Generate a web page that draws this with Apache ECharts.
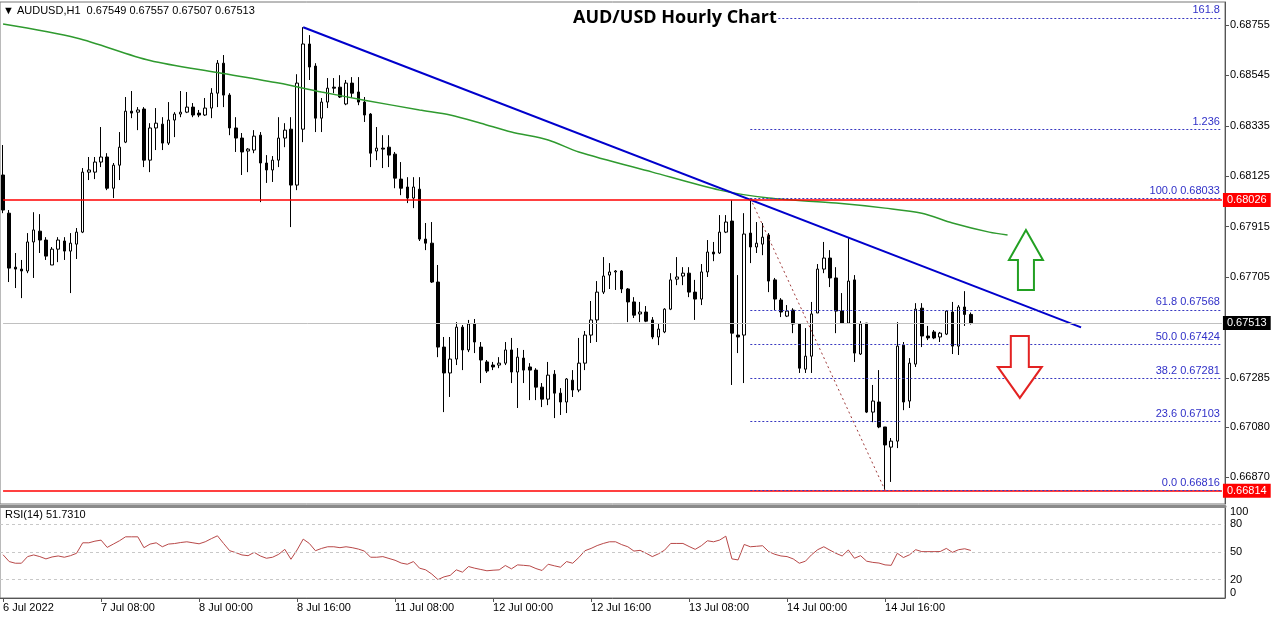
<!DOCTYPE html>
<html><head><meta charset="utf-8">
<script src="https://cdn.jsdelivr.net/npm/echarts@6/dist/echarts.min.js"></script>
<style>html,body{margin:0;padding:0;background:#fff}#c{width:1280px;height:619px}</style>
</head><body><div id="c"></div>
<script>
// ---- data ----
const openP=[0.68130,0.67971,0.67746,0.67738,0.67730,0.67851,0.67896,0.67859,0.67755,0.67821,
0.67855,0.67813,0.67842,0.67892,0.68142,0.68142,0.68184,0.68205,0.68075,0.68171,
0.68267,0.68396,0.68392,0.68405,0.68192,0.68326,0.68342,0.68263,0.68359,0.68384,
0.68392,0.68413,0.68388,0.68380,0.68409,0.68471,0.68596,0.68463,0.68326,0.68284,
0.68230,0.68234,0.68296,0.68180,0.68151,0.68192,0.68284,0.68321,0.68088,0.68321,
0.68676,0.68584,0.68367,0.68434,0.68496,0.68496,0.68426,0.68513,0.68476,0.68434,
0.68384,0.68230,0.68242,0.68246,0.68217,0.68113,0.68080,0.68034,0.68071,0.67863,
0.67846,0.67684,0.67413,0.67305,0.67363,0.67496,0.67401,0.67509,0.67413,0.67351,
0.67338,0.67338,0.67346,0.67401,0.67309,0.67367,0.67330,0.67317,0.67246,0.67196,
0.67300,0.67221,0.67184,0.67275,0.67234,0.67346,0.67463,0.67526,0.67642,0.67713,
0.67726,0.67730,0.67655,0.67601,0.67551,0.67559,0.67526,0.67455,0.67476,0.67571,
0.67696,0.67709,0.67721,0.67642,0.67613,0.67726,0.67809,0.67805,0.67892,0.67938,
0.67463,0.67463,0.67888,0.67830,0.67842,0.67880,0.67693,0.67609,0.67542,0.67567,
0.67509,0.67321,0.67375,0.67555,0.67738,0.67784,0.67701,0.67563,0.67513,0.67693,
0.67384,0.67513,0.67142,0.67184,0.67080,0.66996,0.67021,0.67421,0.67188,0.67342,
0.67575,0.67459,0.67476,0.67455,0.67467,0.67559,0.67417,0.67580,0.67549];
const highP=[0.68255,0.67984,0.67805,0.67776,0.67888,0.67975,0.67967,0.67871,0.67830,0.67871,
0.67871,0.67888,0.67909,0.68159,0.68205,0.68205,0.68330,0.68221,0.68180,0.68309,
0.68455,0.68480,0.68413,0.68413,0.68346,0.68409,0.68371,0.68434,0.68392,0.68480,
0.68476,0.68430,0.68401,0.68451,0.68492,0.68609,0.68630,0.68471,0.68371,0.68305,
0.68242,0.68317,0.68309,0.68213,0.68209,0.68371,0.68346,0.68371,0.68550,0.68746,
0.68713,0.68596,0.68451,0.68534,0.68534,0.68546,0.68526,0.68538,0.68538,0.68455,
0.68388,0.68330,0.68296,0.68296,0.68226,0.68184,0.68121,0.68121,0.68121,0.67930,
0.67934,0.67755,0.67455,0.67455,0.67517,0.67505,0.67526,0.67530,0.67434,0.67359,
0.67351,0.67371,0.67434,0.67451,0.67409,0.67401,0.67346,0.67325,0.67263,0.67351,
0.67317,0.67242,0.67284,0.67317,0.67451,0.67480,0.67605,0.67688,0.67788,0.67763,
0.67734,0.67734,0.67659,0.67621,0.67601,0.67584,0.67538,0.67513,0.67575,0.67721,
0.67788,0.67746,0.67746,0.67693,0.67759,0.67859,0.67851,0.67963,0.67963,0.68025,
0.67713,0.67971,0.68033,0.67934,0.67930,0.67888,0.67701,0.67617,0.67588,0.67575,
0.67513,0.67492,0.67601,0.67759,0.67851,0.67817,0.67746,0.67638,0.67867,0.67713,
0.67521,0.67513,0.67255,0.67317,0.67080,0.67034,0.67517,0.67434,0.67367,0.67596,
0.67596,0.67501,0.67484,0.67476,0.67567,0.67601,0.67588,0.67646,0.67557];
const lowP=[0.67971,0.67684,0.67659,0.67617,0.67721,0.67701,0.67805,0.67776,0.67755,0.67767,
0.67776,0.67638,0.67780,0.67888,0.68109,0.68113,0.68163,0.68067,0.68034,0.68109,
0.68263,0.68367,0.68317,0.68163,0.68142,0.68234,0.68234,0.68255,0.68288,0.68371,
0.68388,0.68371,0.68371,0.68376,0.68367,0.68413,0.68413,0.68296,0.68226,0.68130,
0.68142,0.68221,0.68017,0.68097,0.68101,0.68163,0.68246,0.67913,0.68067,0.68267,
0.68526,0.68309,0.68309,0.68409,0.68471,0.68451,0.68421,0.68451,0.68421,0.68351,
0.68163,0.68192,0.68159,0.68163,0.68075,0.68046,0.68013,0.67992,0.67855,0.67817,
0.67680,0.67371,0.67142,0.67205,0.67338,0.67317,0.67392,0.67388,0.67263,0.67305,
0.67317,0.67325,0.67338,0.67263,0.67159,0.67263,0.67192,0.67192,0.67163,0.67171,
0.67117,0.67130,0.67138,0.67205,0.67225,0.67317,0.67430,0.67434,0.67634,0.67655,
0.67651,0.67638,0.67517,0.67534,0.67517,0.67517,0.67446,0.67421,0.67471,0.67567,
0.67671,0.67671,0.67621,0.67526,0.67588,0.67705,0.67771,0.67801,0.67888,0.67255,
0.67388,0.67263,0.67763,0.67805,0.67796,0.67642,0.67567,0.67538,0.67538,0.67471,
0.67305,0.67305,0.67305,0.67555,0.67721,0.67663,0.67471,0.67513,0.67513,0.67351,
0.67380,0.67138,0.67100,0.67075,0.66816,0.66851,0.66992,0.67150,0.67159,0.67330,
0.67413,0.67442,0.67446,0.67434,0.67463,0.67384,0.67380,0.67501,0.67507];
const closeP=[0.67984,0.67742,0.67738,0.67730,0.67851,0.67901,0.67859,0.67792,0.67821,0.67859,
0.67813,0.67846,0.67892,0.68142,0.68151,0.68184,0.68205,0.68075,0.68171,0.68246,
0.68396,0.68388,0.68401,0.68192,0.68326,0.68346,0.68263,0.68359,0.68384,0.68392,
0.68413,0.68380,0.68380,0.68409,0.68471,0.68596,0.68463,0.68326,0.68284,0.68226,
0.68238,0.68292,0.68180,0.68151,0.68192,0.68284,0.68317,0.68088,0.68513,0.68676,
0.68580,0.68367,0.68434,0.68492,0.68492,0.68455,0.68513,0.68471,0.68434,0.68380,
0.68221,0.68242,0.68238,0.68213,0.68117,0.68075,0.68034,0.68080,0.67863,0.67846,
0.67684,0.67413,0.67305,0.67363,0.67496,0.67401,0.67509,0.67434,0.67359,0.67313,
0.67330,0.67346,0.67401,0.67309,0.67371,0.67317,0.67317,0.67246,0.67196,0.67296,
0.67221,0.67184,0.67280,0.67234,0.67346,0.67463,0.67526,0.67642,0.67709,0.67726,
0.67730,0.67655,0.67601,0.67546,0.67559,0.67521,0.67455,0.67488,0.67571,0.67693,
0.67705,0.67721,0.67642,0.67613,0.67726,0.67809,0.67801,0.67892,0.67934,0.67471,
0.67455,0.67884,0.67830,0.67846,0.67871,0.67688,0.67613,0.67559,0.67563,0.67509,
0.67325,0.67375,0.67551,0.67738,0.67784,0.67701,0.67563,0.67513,0.67688,0.67388,
0.67509,0.67142,0.67188,0.67080,0.67005,0.67021,0.67417,0.67184,0.67346,0.67571,
0.67459,0.67451,0.67451,0.67471,0.67563,0.67417,0.67580,0.67549,0.67513];
const rsiVals=[47,39.6,37.8,37.8,45,46.8,45,42.5,44.6,45.7,
44.3,46,48.6,60,60,61.8,62.9,55,58.6,62.2,
66.5,66.5,66.5,54.7,58.6,60,55.7,58.6,59.2,60.3,
61.1,60,58.9,61.1,64.5,67.6,59.3,51.4,49.3,46.8,
46,49.6,45.7,43.2,44.3,47.5,52.9,42.1,52.2,64,
59.3,51.4,53.9,55.7,55.7,54.7,55.7,54.7,53.2,51,
44.3,44.3,45,43,41,38,36.7,39.6,32.4,30.6,
26,20,23,24.6,30.6,28.1,34.2,32.4,31,29.6,
30.2,30.6,35.3,31.7,36,35.5,34.9,32,29.9,36.7,
35,33.5,39.6,37.8,44,51.4,53.9,57,59.3,61.1,
61.1,58,55.7,51,51.8,48.6,45,48,52,59.3,
59.3,59.3,56,52.9,56.8,62.2,61.1,63,67.2,42.5,
41.4,58.2,55.7,56.2,56.8,50.4,47.5,45.7,45,42.5,
37.8,40,47,52.5,55.7,52,48.5,45.7,52.2,43.2,
46,40,38.7,38,36,35.5,48.6,44,47,52.5,
50.4,50.4,50.4,50.5,53.9,49.6,52.5,53.5,51.73];
const maIdx=[0,12,24,35,45,52,59,68,73,78,83,89,94,106,117,125,136,144,150,155,161,164];
const maVals=[0.68759,0.68701,0.68607,0.68557,0.68513,0.68476,0.68442,0.68401,0.68380,0.68346,0.68309,
0.68276,0.68226,0.68142,0.68067,0.68034,0.68013,0.67992,0.67971,0.67930,0.67892,0.67880];
const trendIdx=[49,176], trendVals=[0.68746,0.67495];
const fibIdx=[122,144], fibVals=[0.68033,0.66816];
const fibText=['161.8','1.236','100.0 0.68033','61.8 0.67568','50.0 0.67424','38.2 0.67281','23.6 0.67103','0.0 0.66816'];
const fibLevel=[0.68785,0.68320,0.68033,0.67568,0.67424,0.67281,0.67103,0.66816];
const priceTicks=[0.66870,0.67080,0.67285,0.67495,0.67705,0.67915,0.68125,0.68335,0.68545,0.68755];
const rsiTicks=[0,20,50,80,100];
const rsiLevels=[20,50,80];
const timeLabels=['6 Jul 2022','7 Jul 08:00','8 Jul 00:00','8 Jul 16:00','11 Jul 08:00','12 Jul 00:00','12 Jul 16:00','13 Jul 08:00','14 Jul 00:00','14 Jul 16:00'];
const resistance=0.68026, support=0.66814, lastPrice=0.67513;
const header='\u25BC AUDUSD,H1  0.67549 0.67557 0.67507 0.67513';
const rsiHeader='RSI(14) 51.7310';
const titleText='AUD/USD Hourly Chart';
const NSLOTS=200, LABEL_STEP=16;

// ---- build ----
const cats=Array.from({length:NSLOTS},(_,i)=>String(i));
const candles=openP.map((o,i)=>[o,closeP[i],lowP[i],highP[i]]);
const FONT='Liberation Sans';
const chart=echarts.init(document.getElementById('c'),null,{renderer:'canvas'});
const showLab=(i)=> i%LABEL_STEP===0 && i/LABEL_STEP<timeLabels.length;

const boxLabel=(txt,bg)=>({show:true,position:'end',formatter:txt,color:'#fff',backgroundColor:bg,padding:[2,4,1,4],fontSize:11,fontFamily:FONT,distance:1});
const hLine=(v,color,w,bg)=>[
  {coord:[0,v],lineStyle:{color:color,width:w,type:'solid'},label:boxLabel(v.toFixed(5),bg)},
  {coord:[NSLOTS-1,v]}];
const fibLines=fibLevel.map((v,k)=>[
  {coord:[fibIdx[0],v],lineStyle:{color:'#3838c0',width:1,type:[2,2]},
   label:{show:true,position:'insideEndTop',formatter:fibText[k],color:'#3030c8',fontSize:11,fontFamily:FONT,distance:2}},
  {coord:[NSLOTS-1,v]}]);

const opt={
  animation:false,
  backgroundColor:'#fff',
  textStyle:{fontFamily:FONT},
  title:[
    {text:header,left:3,top:5,textStyle:{fontSize:11,fontWeight:'normal',color:'#000',fontFamily:FONT},padding:0},
    {text:rsiHeader,left:5,top:509,textStyle:{fontSize:11,fontWeight:'normal',color:'#000',fontFamily:FONT},padding:0}
  ],
  grid:[
    {left:0,right:55,top:2,height:502,show:true,borderColor:'#777',borderWidth:1},
    {left:0,right:55,top:506,height:92,show:true,borderColor:'#777',borderWidth:1}
  ],
  xAxis:[
    {type:'category',data:cats,gridIndex:0,boundaryGap:true,show:false},
    {type:'category',data:cats,gridIndex:1,boundaryGap:true,position:'bottom',
     axisLine:{lineStyle:{color:'#555'}},
     axisTick:{show:true,interval:(i)=>showLab(i),alignWithLabel:true,length:4,lineStyle:{color:'#555'}},
     axisLabel:{interval:(i)=>showLab(i),formatter:(v,i)=>timeLabels[i/LABEL_STEP]||'',align:'left',color:'#000',fontSize:11,fontFamily:FONT,margin:4}},
    {type:'category',data:cats,gridIndex:1,position:'top',axisLine:{lineStyle:{color:'#8a8a8a',width:3}},axisTick:{show:false},axisLabel:{show:false}}
  ],
  yAxis:[
    {type:'value',gridIndex:0,position:'right',min:0.66759,max:0.68851,scale:true,
     axisLine:{show:true,lineStyle:{color:'#555'}},
     axisTick:{show:true,length:4,customValues:priceTicks,lineStyle:{color:'#555'}},
     axisLabel:{customValues:priceTicks,formatter:(v)=>v.toFixed(5),color:'#000',fontSize:11,fontFamily:FONT,margin:5},
     splitLine:{show:false}},
    {type:'value',gridIndex:1,position:'right',min:0,max:100,
     axisLine:{show:true,lineStyle:{color:'#555'}},
     axisTick:{show:false},
     axisLabel:{customValues:rsiTicks,color:'#000',fontSize:11,fontFamily:FONT,margin:5,verticalAlignMinLabel:'bottom',verticalAlignMaxLabel:'top'},
     splitLine:{show:false}}
  ],
  series:[
    {type:'candlestick',xAxisIndex:0,yAxisIndex:0,data:candles,barWidth:3,z:2,
     itemStyle:{color:'#ffffff',color0:'#000000',borderColor:'#000000',borderColor0:'#000000',borderWidth:1}},
    {type:'line',xAxisIndex:0,yAxisIndex:0,data:maIdx.map((x,k)=>[x,maVals[k]]),showSymbol:false,smooth:0.3,
     lineStyle:{color:'#2f9a2f',width:1.5},z:3,
     markLine:{silent:true,symbol:['none','none'],animation:false,
       data:[hLine(lastPrice,'#c0c0c0',1,'#000'),hLine(resistance,'#ff0000',1.5,'#ff0000'),hLine(support,'#ff0000',1.5,'#ff0000')].concat(fibLines)}},
    {type:'line',xAxisIndex:0,yAxisIndex:0,data:trendIdx.map((x,k)=>[x,trendVals[k]]),showSymbol:false,
     lineStyle:{color:'#0000cc',width:2},z:4},
    {type:'line',xAxisIndex:0,yAxisIndex:0,data:fibIdx.map((x,k)=>[x,fibVals[k]]),showSymbol:false,
     lineStyle:{color:'#a03c3c',width:1,type:[2,3]},z:4},
    {type:'line',xAxisIndex:1,yAxisIndex:1,data:rsiVals,showSymbol:false,
     lineStyle:{color:'#b84848',width:1},
     markLine:{silent:true,symbol:['none','none'],label:{show:false},
       lineStyle:{color:'#c8c8c8',type:[3,3],width:1},
       data:rsiLevels.map(v=>({yAxis:v}))}}
  ]
};
chart.setOption(opt);

// annotations anchored in data space
const upArrow={idx:166.9,tip:0.67901}, downArrow={idx:166.4,tip:0.67201};
const pu=chart.convertToPixel({xAxisIndex:0,yAxisIndex:0},[upArrow.idx,upArrow.tip]);
const pd=chart.convertToPixel({xAxisIndex:0,yAxisIndex:0},[downArrow.idx,downArrow.tip]);
const shift=(pts,p)=>pts.map(a=>[a[0]+p[0],a[1]+p[1]]);
chart.setOption({graphic:[
  {type:'text',left:573,top:9,z:100,style:{text:titleText,font:'bold 18px "Open Sans"',fill:'#000',backgroundColor:'#fff'}},
  {type:'polygon',z:100,shape:{points:shift([[0,0],[17,30],[8,30],[8,60],[-8,60],[-8,30],[-17,30]],pu)},
   style:{fill:'#fff',stroke:'#22a022',lineWidth:2}},
  {type:'polygon',z:100,shape:{points:shift([[0,0],[-22,-31],[-9,-31],[-9,-62],[9,-62],[9,-31],[22,-31]],pd)},
   style:{fill:'#fff',stroke:'#e32222',lineWidth:2}}
]});
</script></body></html>
